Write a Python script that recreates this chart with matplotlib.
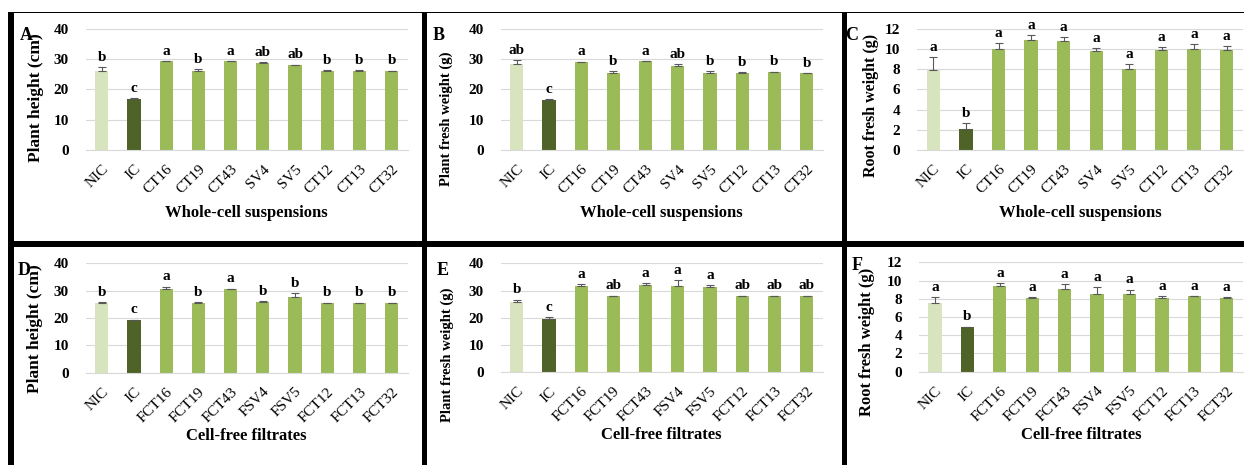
import matplotlib
matplotlib.use("Agg")
import matplotlib.pyplot as plt
from matplotlib.patches import Rectangle
import numpy as np

# ---------------- data ----------------
cats_whole = ["NIC", "IC", "CT16", "CT19", "CT43", "SV4", "SV5", "CT12", "CT13", "CT32"]
cats_filt = ["NIC", "IC", "FCT16", "FCT19", "FCT43", "FSV4", "FSV5", "FCT12", "FCT13", "FCT32"]

A_vals = [26.1, 17.0, 29.3, 26.1, 29.3, 28.8, 28.0, 26.2, 26.2, 26.1]
A_err = [1.4, 0.2, 0.2, 0.7, 0.2, 0.2, 0.2, 0.1, 0.1, 0.1]
A_let = ["b", "c", "a", "b", "a", "ab", "ab", "b", "b", "b"]

B_vals = [28.3, 16.5, 29.0, 25.3, 29.3, 27.8, 25.3, 25.6, 25.7, 25.3]
B_err = [1.5, 0.2, 0.2, 0.8, 0.2, 0.6, 0.8, 0.1, 0.2, 0.2]
B_let = ["ab", "c", "a", "b", "a", "ab", "b", "b", "b", "b"]

C_vals = [7.9, 2.1, 10.0, 10.9, 10.8, 9.8, 8.0, 9.9, 10.0, 9.9]
C_err = [1.3, 0.6, 0.6, 0.5, 0.4, 0.3, 0.5, 0.3, 0.5, 0.4]
C_let = ["a", "b", "a", "a", "a", "a", "a", "a", "a", "a"]

D_vals = [25.5, 19.3, 30.5, 25.5, 30.5, 25.9, 27.8, 25.5, 25.5, 25.5]
D_err = [0.2, 0.1, 1.0, 0.2, 0.2, 0.2, 1.2, 0.1, 0.1, 0.1]
D_let = ["b", "c", "a", "b", "a", "b", "b", "b", "b", "b"]

E_vals = [25.9, 19.5, 31.7, 27.9, 32.1, 31.8, 31.3, 27.9, 27.9, 27.9]
E_err = [0.8, 0.7, 0.6, 0.2, 0.7, 1.9, 0.6, 0.2, 0.2, 0.2]
E_let = ["b", "c", "a", "ab", "a", "a", "a", "ab", "ab", "ab"]

F_vals = [7.5, 4.9, 9.45, 8.1, 9.1, 8.5, 8.5, 8.1, 8.25, 8.1]
F_err = [0.65, 0.05, 0.25, 0.05, 0.5, 0.75, 0.5, 0.2, 0.05, 0.05]
F_let = ["a", "b", "a", "a", "a", "a", "a", "a", "a", "a"]

# ---------------- style ----------------
W, H, DPI = 1244, 465, 100
FONT = "Liberation Serif"
C_LIGHT, C_DARK, C_MID = "#d7e4bd", "#4f6228", "#9bbb59"
GRID = "#d9d9d9"
bar_colors = [C_LIGHT, C_DARK] + [C_MID] * 8

plt.rcParams["font.family"] = [FONT, "DejaVu Serif"]

fig = plt.figure(figsize=(W / DPI, H / DPI), dpi=DPI)


def px_rect(left, right, top, bottom):
    return [left / W, 1 - bottom / H, (right - left) / W, (bottom - top) / H]


panels = [
    dict(letter="A", cats=cats_whole, vals=A_vals, err=A_err, let=A_let, ymax=40, step=10,
         ylabel="Plant height (cm)", xlabel="Whole-cell suspensions",
         rect=px_rect(85.6, 407.8, 29, 150), letpos=(20, 27), yl=(36, 98, 12.5)),
    dict(letter="B", cats=cats_whole, vals=B_vals, err=B_err, let=B_let, ymax=40, step=10,
         ylabel="Plant fresh weight (g)", xlabel="Whole-cell suspensions",
         rect=px_rect(500.6, 822.8, 29, 150), letpos=(433, 27), yl=(446, 119, 10.5)),
    dict(letter="C", cats=cats_whole, vals=C_vals, err=C_err, let=C_let, ymax=12, step=2,
         ylabel="Root fresh weight (g)", xlabel="Whole-cell suspensions",
         rect=px_rect(917.0, 1243.0, 29, 150), letpos=(845, 27), yl=(871, 105.5, 11.5)),
    dict(letter="D", cats=cats_filt, vals=D_vals, err=D_err, let=D_let, ymax=40, step=10,
         ylabel="Plant height (cm)", xlabel="Cell-free filtrates",
         rect=px_rect(85.6, 407.8, 263.3, 372.7), letpos=(18, 262), yl=(35, 329, 12.5)),
    dict(letter="E", cats=cats_filt, vals=E_vals, err=E_err, let=E_let, ymax=40, step=10,
         ylabel="Plant fresh weight (g)", xlabel="Cell-free filtrates",
         rect=px_rect(500.6, 822.8, 263.3, 372.3), letpos=(437, 262), yl=(447, 355, 10.5)),
    dict(letter="F", cats=cats_filt, vals=F_vals, err=F_err, let=F_let, ymax=12, step=2,
         ylabel="Root fresh weight (g)", xlabel="Cell-free filtrates",
         rect=px_rect(918.8, 1243.0, 262.3, 371.7), letpos=(852, 257), yl=(867, 341.5, 12.0)),
]

for p in panels:
    ax = fig.add_axes(p["rect"])
    x = np.arange(len(p["cats"]))
    vals = np.array(p["vals"])
    err = np.array(p["err"])
    ax.bar(x, vals, width=0.41, color=bar_colors, zorder=2)
    ax.errorbar(x, vals, yerr=[np.zeros_like(err), err], fmt="none",
                ecolor="#595959", elinewidth=0.8, capsize=3, capthick=0.8, zorder=3)
    for xi, v, e, t in zip(x, vals, err, p["let"]):
        ax.annotate(t, xy=(xi, v + e), xytext=(0, 4.5), textcoords="offset points",
                    ha="center", va="baseline", fontsize=11, fontweight="bold")
    ax.set_xlim(-0.5, len(x) - 0.5)
    ax.set_ylim(0, p["ymax"])
    ax.set_yticks(np.arange(0, p["ymax"] + 0.1, p["step"]))
    ax.yaxis.grid(True, color=GRID, linewidth=0.8)
    ax.set_axisbelow(True)
    for s in ["left", "right", "top"]:
        ax.spines[s].set_visible(False)
    ax.spines["bottom"].set_color(GRID)
    ax.spines["bottom"].set_linewidth(0.8)
    ax.tick_params(axis="both", length=0)
    ax.tick_params(axis="y", pad=12, labelsize=11)
    for lab in ax.get_yticklabels():
        lab.set_fontweight("bold")
    ax.set_xticks(x)
    ax.set_xticklabels(p["cats"], fontsize=11, rotation=45, ha="right",
                       rotation_mode="anchor")
    ax.tick_params(axis="x", pad=9)
    # y-axis title
    ylx, ylc, yls = p["yl"]
    fig.text(ylx / W, 1 - ylc / H, p["ylabel"], rotation=90,
             ha="center", va="center", fontsize=yls, fontweight="bold")
    ax.annotate(p["xlabel"], xy=(0.5, 0), xycoords="axes fraction",
                xytext=(0, -63 * 0.72), textcoords="offset points",
                ha="center", va="center", fontsize=12, fontweight="bold")
    lx, ly = p["letpos"]
    fig.text(lx / W, 1 - ly / H, p["letter"], ha="left", va="top",
             fontsize=13, fontweight="bold")

# ---------------- frame lines ----------------
def frect(x0, y0, x1, y1):
    fig.add_artist(Rectangle((x0 / W, 1 - y1 / H), (x1 - x0) / W, (y1 - y0) / H,
                             transform=fig.transFigure, facecolor="black",
                             edgecolor="none", zorder=10))

frect(8, 12, W, 13.5)       # thin top line
frect(8, 12, 14, H)         # left thick bar
frect(422, 12, 427, H)      # divider A|B
frect(842, 12, 847, H)      # divider B|C
frect(8, 241, W, 246.5)     # divider rows

fig.savefig("out.png", dpi=DPI)
